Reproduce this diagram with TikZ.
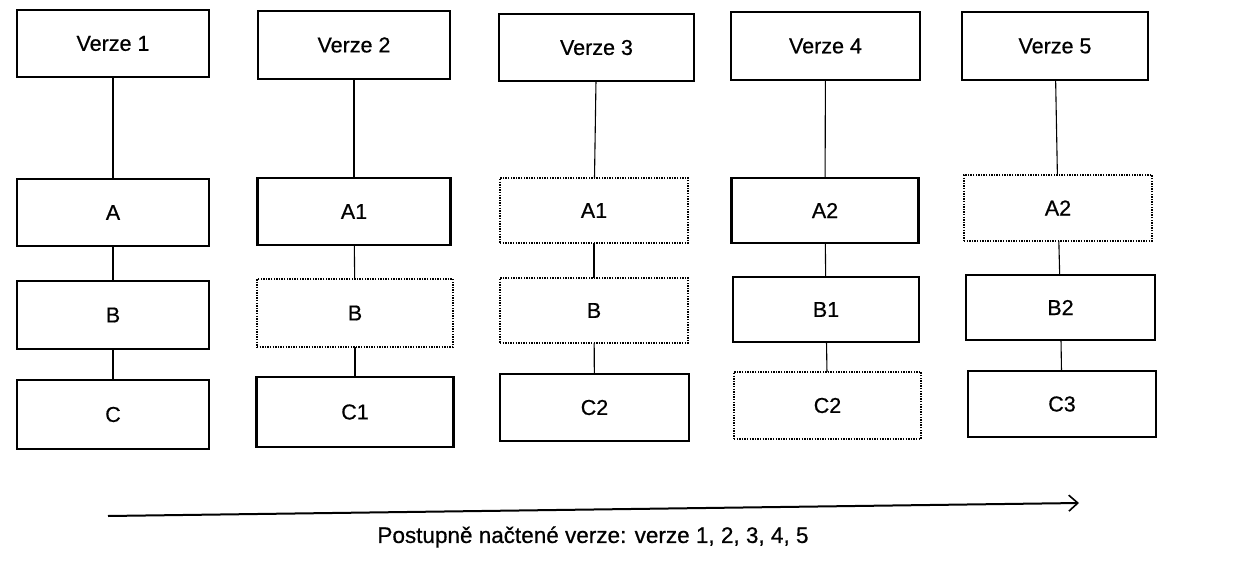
\documentclass[tikz,border=0pt]{standalone}
\usepackage{fontspec}
\setmainfont{Liberation Sans}
\newfontfamily\boxfont[FakeBold=0.6]{Liberation Sans}
\usetikzlibrary{arrows.meta}
\begin{document}
\begin{tikzpicture}[x=1pt,y=-1pt,
  lbl/.style={font=\boxfont\fontsize{21.5}{25}\selectfont, inner sep=0pt, outer sep=0pt},
  box/.style={lbl, draw=black, line width=2.6pt},
  dbox/.style={lbl, draw=black, line width=1.3pt, dash pattern=on 1.4pt off 1.2pt},
  conn/.style={draw=black, line width=1.1pt},
  sz/.style 2 args={minimum width=#1pt, minimum height=#2pt}
]
\useasboundingbox (0,0) rectangle (1250,580);
% column 1
\node[box, sz={192}{67}] (v1) at (113,43.5) {Verze 1};
\node[box, sz={192}{67}] (a1) at (113,212.5) {A};
\node[box, sz={192}{68}] (b1) at (113,315) {B};
\node[box, sz={192}{69}] (c1) at (113,414.5) {C};
% column 2
\node[box, sz={192}{68}] (v2) at (354,45) {Verze 2};
\node[box, sz={193}{67}] (a2) at (354,211.5) {A1};
\node[dbox, sz={196}{68}] (b2) at (355,313) {B};
\node[box, sz={197}{70}] (c2) at (355,412) {C1};
% column 3
\node[box, sz={195}{67}] (v3) at (596.5,47.5) {Verze 3};
\node[dbox, sz={188}{65}] (a3) at (594,210.5) {A1};
\node[dbox, sz={188}{65}] (b3) at (594,310.5) {B};
\node[box, sz={189}{67}] (c3) at (594.5,407.5) {C2};
% column 4
\node[box, sz={189}{68}] (v4) at (825.5,46) {Verze 4};
\node[box, sz={187}{65}] (a4) at (825,210.5) {A2};
\node[box, sz={186}{65}] (b4) at (826,309.5) {B1};
\node[dbox, sz={187}{67}] (c4) at (827.5,405.5) {C2};
% column 5
\node[box, sz={186}{68}] (v5) at (1055,46) {Verze 5};
\node[dbox, sz={188}{66}] (a5) at (1058,208) {A2};
\node[box, sz={189}{65}] (b5) at (1060.5,307.5) {B2};
\node[box, sz={188}{66}] (c5) at (1062,404) {C3};
% connectors
\foreach \i in {1,...,5}{
  \draw[conn] (v\i) -- (a\i);
  \draw[conn] (a\i) -- (b\i);
  \draw[conn] (b\i) -- (c\i);
}
% timeline arrow
\coordinate (s) at (108,516);
\coordinate (e) at (1079,503);
\draw[line width=2pt, -{Straight Barb[length=9pt,width=16pt,line width=1.6pt]}] (s) -- (e);
\node[font=\boxfont\fontsize{22.5}{26}\selectfont, inner sep=0pt] (cap) at (593,537) {Postupně načtené verze: verze 1, 2, 3, 4, 5};
\end{tikzpicture}
\end{document}
